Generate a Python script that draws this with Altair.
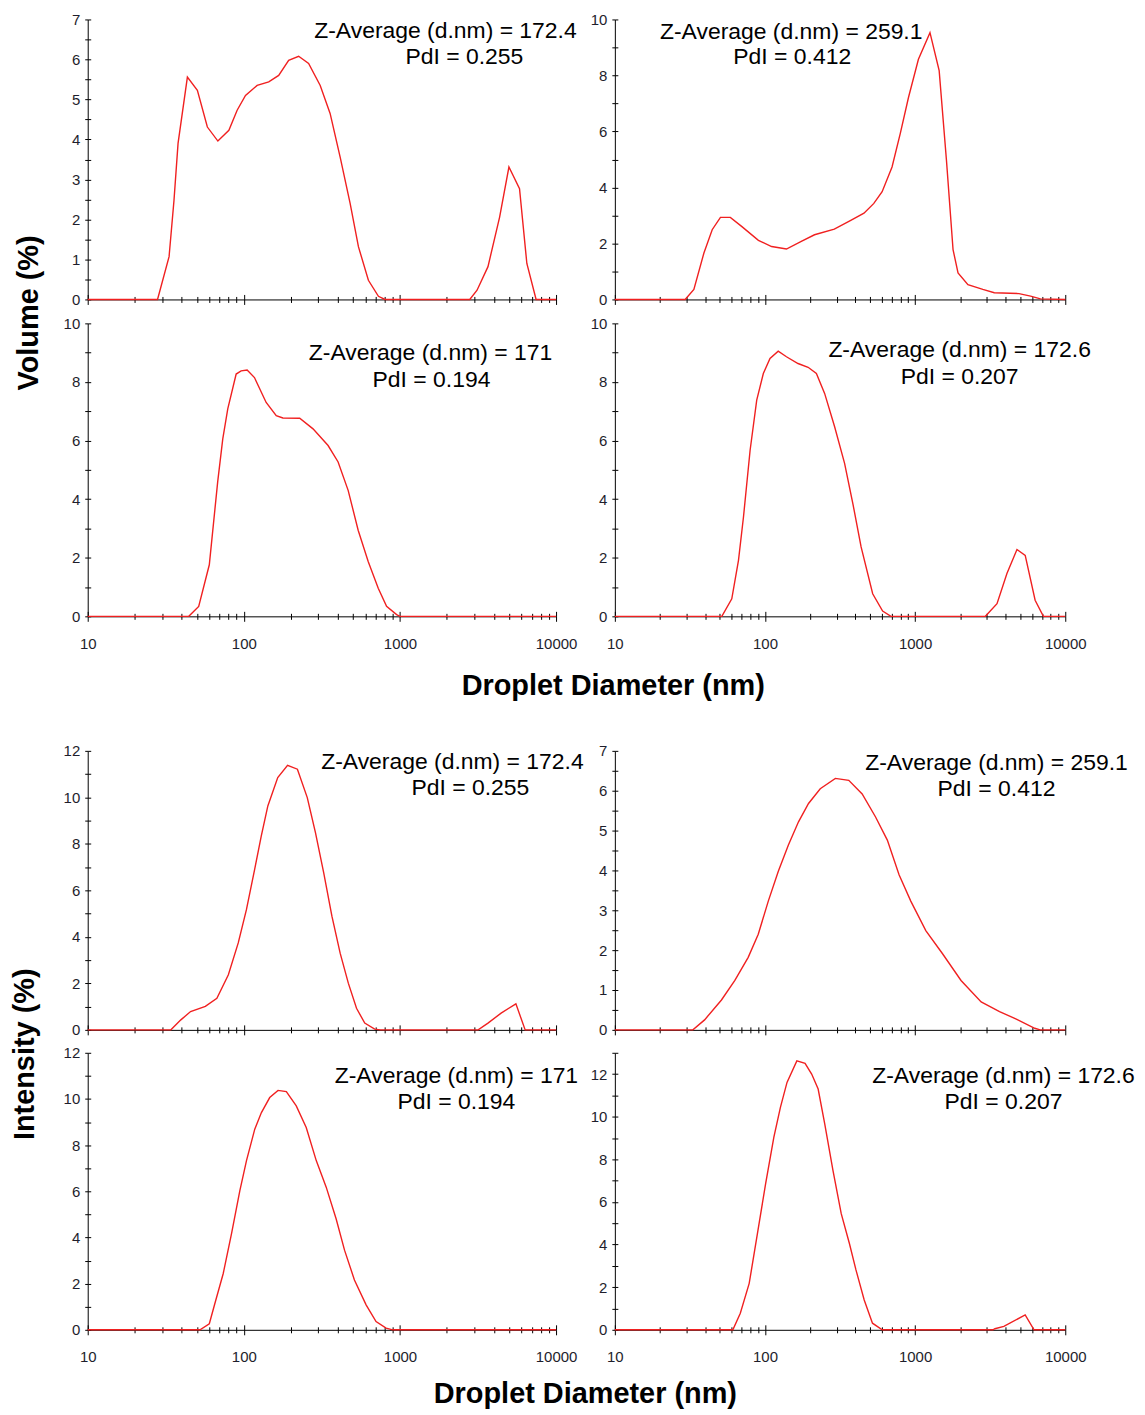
import altair as alt
import pandas as pd

# ---------------- axis tick values ----------------
X_MAJOR = [10, 100, 1000, 10000]
X_MINOR = [20, 30, 40, 50, 60, 70, 80, 90,
           200, 300, 400, 500, 600, 700, 800, 900,
           2000, 3000, 4000, 5000, 6000, 7000, 8000, 9000]

Y7_LAB = [0, 1, 2, 3, 4, 5, 6, 7]
Y7_MIN = [0.5, 1.5, 2.5, 3.5, 4.5, 5.5, 6.5]
Y10_LAB = [0, 2, 4, 6, 8, 10]
Y10_MIN = [1, 3, 5, 7, 9]
Y12_LAB = [0, 2, 4, 6, 8, 10, 12]
Y12_MIN = [1, 3, 5, 7, 9, 11]
Y13_MIN = [1, 3, 5, 7, 9, 11, 13]

# ---------------- Volume distributions ----------------
V1_D = [10, 28, 33.2, 35.7, 37.9, 43.5, 50.4, 58.4, 68.2, 80.2, 90.6, 102.5, 121.7, 144.4, 167.2,
        193.7, 224.4, 260, 308.5, 357, 414, 479.6, 542, 628, 728, 802, 2800, 3118, 3664, 4350,
        4990, 5834, 6500, 7450, 10000]
V1_Y = [0, 0, 1.07, 2.48, 3.9, 5.56, 5.23, 4.31, 3.96, 4.23, 4.73, 5.10, 5.35, 5.44, 5.60,
        5.98, 6.08, 5.90, 5.35, 4.65, 3.56, 2.40, 1.32, 0.48, 0.08, 0, 0, 0.23, 0.82, 2.06,
        3.31, 2.77, 0.90, 0, 0]

V2_D = [10, 29.4, 33.6, 39.2, 44.5, 50.5, 58.8, 70.2, 90.4, 110.7, 139, 174.5, 213.8, 289.6,
        372.7, 456.4, 531, 603, 702, 796, 904, 1052, 1256, 1446, 1617, 1789, 1931, 2248, 2825,
        3367, 4920, 5875, 6838, 10000]
V2_Y = [0, 0, 0.36, 1.66, 2.49, 2.93, 2.93, 2.60, 2.11, 1.89, 1.80, 2.07, 2.31, 2.51,
        2.82, 3.08, 3.43, 3.85, 4.73, 5.92, 7.22, 8.58, 9.53, 8.17, 4.97, 1.78, 0.95, 0.53, 0.36,
        0.24, 0.21, 0.12, 0.02, 0]

V3_D = [10, 44.4, 51.4, 60.1, 68, 73.3, 78.9, 89.3, 96.1, 105, 117, 139, 161.3, 178, 228,
        277.5, 346.5, 401.7, 465.8, 540, 626, 726, 821, 952, 1000, 10000]
V3_Y = [0, 0, 0.34, 1.76, 4.59, 6.06, 7.08, 8.27, 8.38, 8.41, 8.15, 7.30, 6.85, 6.77, 6.76,
        6.40, 5.83, 5.27, 4.30, 2.94, 1.87, 0.96, 0.34, 0.06, 0, 0]

V4_D = [10, 51.6, 60.1, 66.6, 71.9, 79.6, 88.1, 97.5, 108, 122.5, 139, 166, 193.7, 220, 249.6,
        291, 339, 384.8, 436.7, 521.6, 607.5, 690, 2938, 3511, 4088, 4768, 5411, 6300, 7150, 10000]
V4_Y = [0, 0, 0.60, 1.91, 3.39, 5.67, 7.38, 8.29, 8.80, 9.05, 8.86, 8.63, 8.50, 8.29, 7.61,
        6.47, 5.22, 3.85, 2.37, 0.77, 0.18, 0, 0, 0.43, 1.46, 2.28, 2.08, 0.55, 0, 0]

# ---------------- Intensity distributions ----------------
I1_D = [10, 34.1, 39.5, 45.6, 56.7, 67.2, 79.6, 92.1, 103.9, 117.3, 129.3, 142.5, 164.9, 190.6,
        220.4, 254.9, 287.6, 324.9, 366.6, 414, 467, 527, 595, 689, 750, 3170, 3664, 4446, 5530,
        6340, 10000]
I1_Y = [0, 0, 0.43, 0.79, 1.01, 1.36, 2.37, 3.74, 5.17, 6.90, 8.33, 9.63, 10.85, 11.38,
        11.21, 9.99, 8.48, 6.75, 4.89, 3.30, 2.01, 0.93, 0.29, 0.03, 0, 0, 0.29, 0.72, 1.12,
        0, 0]

I2_D = [10, 33.1, 39.6, 51.3, 63, 77.3, 90.2, 105.2, 122.7, 143.2, 167.2, 195, 233.4, 294.3,
        361.5, 443.9, 545.2, 653, 781.7, 935.6, 1178, 1523, 2022, 2754, 3650, 4720, 6266, 6800,
        10000]
I2_Y = [0, 0, 0.25, 0.75, 1.24, 1.82, 2.40, 3.23, 3.98, 4.64, 5.22, 5.68, 6.05, 6.31,
        6.26, 5.92, 5.34, 4.76, 3.89, 3.23, 2.49, 1.91, 1.24, 0.70, 0.46, 0.27, 0.04, 0,
        0]

I3_D = [10, 52.4, 60.1, 65.3, 73.8, 83.4, 94.3, 104, 117.5, 129.6, 146.5, 165.6, 187.2, 216.7,
        251, 291, 337, 390, 441.6, 511, 607, 703, 815, 898, 10000]
I3_Y = [0, 0, 0.26, 1.15, 2.44, 4.17, 6.03, 7.33, 8.69, 9.41, 10.06, 10.37, 10.32, 9.70,
        8.76, 7.33, 6.18, 4.81, 3.45, 2.16, 1.08, 0.36, 0.07, 0, 0]

I4_D = [10, 61.1, 68.5, 78.5, 89.1, 101, 114.6, 126.7, 140.2, 163, 184.9, 204.6, 226, 250,
        283.6, 322, 365, 403.6, 458, 520, 604, 3300, 3400, 3900, 5408, 6195, 10000]
I4_Y = [0, 0, 0.78, 2.18, 4.52, 6.86, 9.04, 10.44, 11.61, 12.62, 12.50, 12.00, 11.30, 9.66,
        7.48, 5.45, 4.05, 2.81, 1.40, 0.31, 0, 0, 0.05, 0.16, 0.70, 0, 0]

# ---------------- annotation texts ----------------
ZAVG = ["Z-Average (d.nm) = 172.4", "Z-Average (d.nm) = 259.1",
        "Z-Average (d.nm) = 171", "Z-Average (d.nm) = 172.6"]
PDI = ["PdI = 0.255", "PdI = 0.412", "PdI = 0.194", "PdI = 0.207"]

RED = "#f02020"
FONT = "Liberation Sans"
LABC = "#1e1e2c"


def text_layer(txt, px, py):
    return alt.Chart(pd.DataFrame({"t": [txt]})).mark_text(
        font=FONT, fontSize=23, color="black", align="center", baseline="middle"
    ).encode(x=alt.value(px), y=alt.value(py), text="t:N")


def panel(d, v, ymax, ylab, ymin, w, h, xlabels, t1, pos1, t2, pos2):
    df = pd.DataFrame({"d": d, "v": v})
    xs = alt.Scale(type="log", domain=[10, 10000], nice=False)
    ys = alt.Scale(domain=[0, ymax], nice=False)
    com = dict(grid=False, title=None, tickColor="black", tickWidth=1)
    base = alt.Chart(df)

    l1 = base.mark_line(color=RED, strokeWidth=1.4).encode(
        x=alt.X("d:Q", scale=xs, axis=alt.Axis(
            orient="bottom", values=X_MAJOR, tickSize=5, domain=True, domainColor="black",
            domainWidth=1, labels=xlabels, format="d", labelFont=FONT, labelFontSize=15,
            labelColor=LABC, labelPadding=15, labelFlush=False, **com)),
        y=alt.Y("v:Q", scale=ys, axis=alt.Axis(
            orient="left", values=ylab, tickSize=3, domain=True, domainColor="black",
            domainWidth=1, labels=True, format="d", labelFont=FONT, labelFontSize=15,
            labelColor=LABC, labelPadding=5, minExtent=26, maxExtent=26, **com)),
    )
    l2 = base.mark_line(opacity=0).encode(
        x=alt.X("d:Q", scale=xs, axis=alt.Axis(
            orient="bottom", values=X_MAJOR, tickSize=5, offset=-5, domain=False,
            labels=False, minExtent=0, **com)),
        y=alt.Y("v:Q", scale=ys, axis=alt.Axis(
            orient="left", values=sorted(ylab + ymin), tickSize=3, offset=-3, domain=False,
            labels=False, minExtent=0, **com)),
    )
    l3 = base.mark_line(opacity=0).encode(
        x=alt.X("d:Q", scale=xs, axis=alt.Axis(
            orient="bottom", values=X_MINOR, tickSize=3, domain=False,
            labels=False, minExtent=0, **com)),
        y=alt.Y("v:Q", scale=ys, axis=alt.Axis(
            orient="left", values=ymin, tickSize=3, domain=False,
            labels=False, minExtent=0, **com)),
    )
    l4 = base.mark_line(opacity=0).encode(
        x=alt.X("d:Q", scale=xs, axis=alt.Axis(
            orient="bottom", values=X_MINOR, tickSize=3, offset=-3, domain=False,
            labels=False, minExtent=0, **com)),
        y=alt.Y("v:Q", scale=ys, axis=None),
    )
    return alt.layer(
        l1, l2, l3, l4,
        text_layer(t1, pos1[0], pos1[1]),
        text_layer(t2, pos2[0], pos2[1]),
    ).resolve_axis(x="independent", y="independent").properties(width=w, height=h)


WL, WR, GAP = 470, 452, 59

p1 = panel(V1_D, V1_Y, 7, Y7_LAB, Y7_MIN, WL, 281, False, ZAVG[0], (359, 12), PDI[0], (378, 38))
p2 = panel(V2_D, V2_Y, 10, Y10_LAB, Y10_MIN, WR, 281, False, ZAVG[1], (177, 13), PDI[1], (178, 38))
p3 = panel(V3_D, V3_Y, 10, Y10_LAB, Y10_MIN, WL, 294, True, ZAVG[2], (344, 30), PDI[2], (345, 57))
p4 = panel(V4_D, V4_Y, 10, Y10_LAB, Y10_MIN, WR, 294, True, ZAVG[3], (346, 27), PDI[3], (346, 54))

p5 = panel(I1_D, I1_Y, 12, Y12_LAB, Y12_MIN, WL, 280, False, ZAVG[0], (366, 11), PDI[0], (384, 37))
p6 = panel(I2_D, I2_Y, 7, Y7_LAB, Y7_MIN, WR, 280, False, ZAVG[1], (383, 12), PDI[1], (383, 38))
p7 = panel(I3_D, I3_Y, 12, Y12_LAB, Y12_MIN, WL, 278, True, ZAVG[2], (370, 23), PDI[2], (370, 49))
p8 = panel(I4_D, I4_Y, 13, Y12_LAB, Y13_MIN, WR, 278, True, ZAVG[3], (390, 23), PDI[3], (390, 49))


def xtitle(dx, offset):
    return alt.TitleParams("Droplet Diameter (nm)", orient="bottom", anchor="middle", font=FONT,
                           fontSize=29, fontWeight="bold", color="black", offset=offset, dx=dx)


def ytitle(txt, dx, offset):
    return alt.TitleParams(txt, orient="left", anchor="middle", font=FONT, fontSize=29,
                           fontWeight="bold", color="black", offset=offset, dx=dx)


row1 = alt.hconcat(p1, p2, spacing=GAP, bounds="flush")
row2 = alt.hconcat(p3, p4, spacing=GAP, bounds="flush").properties(title=xtitle(37, 21))
row3 = alt.hconcat(p5, p6, spacing=GAP, bounds="flush")
row4 = alt.hconcat(p7, p8, spacing=GAP, bounds="flush").properties(title=xtitle(-13, 15))

grp1 = alt.vconcat(row1, row2, spacing=9).properties(title=ytitle("Volume (%)", 44, 18))
grp2 = alt.vconcat(row3, row4, spacing=8).properties(title=ytitle("Intensity (%)", 22, 22))

chart = alt.vconcat(grp1, grp2, spacing=43).properties(
    padding={"left": 2, "top": 2, "right": 2, "bottom": 0},
    background="white",
).configure_view(stroke=None)

chart.save("out.html", embed_options={"renderer": "svg", "actions": False})
